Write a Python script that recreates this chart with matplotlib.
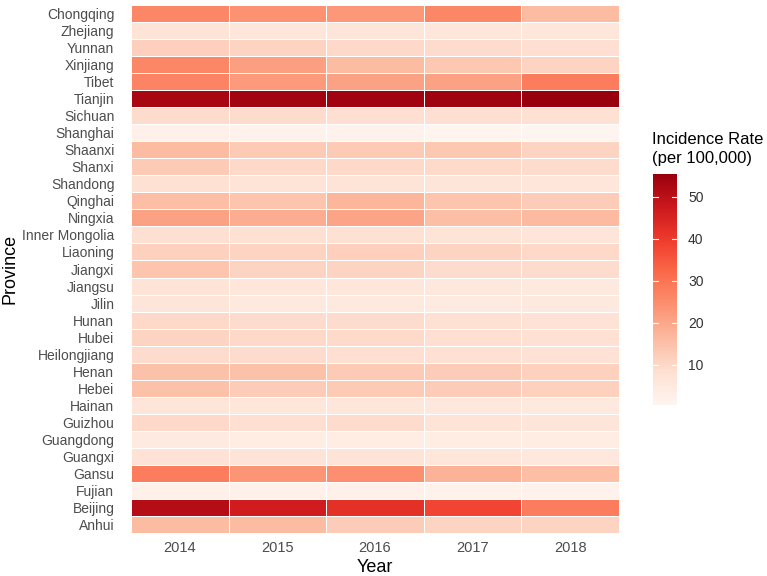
import numpy as np
import matplotlib
matplotlib.use("Agg")
import matplotlib.pyplot as plt
from matplotlib.colors import LinearSegmentedColormap, Normalize

plt.rcParams['font.family'] = ['Liberation Sans', 'DejaVu Sans']

years = ["2014", "2015", "2016", "2017", "2018"]
provinces = ["Anhui", "Beijing", "Fujian", "Gansu", "Guangxi", "Guangdong", "Guizhou",
             "Hainan", "Hebei", "Henan", "Heilongjiang", "Hubei", "Hunan", "Jilin",
             "Jiangsu", "Jiangxi", "Liaoning", "Inner Mongolia", "Ningxia", "Qinghai",
             "Shandong", "Shanxi", "Shaanxi", "Shanghai", "Sichuan", "Tianjin", "Tibet",
             "Xinjiang", "Yunnan", "Zhejiang", "Chongqing"]

anhui = [16.0, 16.0, 12.5, 11.0, 11.0]
beijing = [51.0, 46.5, 42.0, 38.0, 28.0]
fujian = [2.5, 2.0, 2.0, 1.8, 1.5]
gansu = [28.0, 23.5, 24.5, 18.0, 15.5]
guangxi = [7.5, 7.0, 7.0, 6.0, 5.5]
guangdong = [4.5, 4.0, 4.0, 4.0, 3.5]
guizhou = [10.0, 8.5, 9.0, 7.0, 6.5]
hainan = [6.5, 6.0, 6.0, 5.5, 5.0]
hebei = [15.0, 12.5, 13.0, 12.5, 11.5]
henan = [15.0, 15.0, 13.0, 12.5, 11.5]
heilongjiang = [9.0, 9.0, 8.5, 8.0, 7.5]
hubei = [11.0, 10.0, 9.5, 8.5, 8.0]
hunan = [10.0, 9.0, 9.0, 8.0, 7.5]
jilin = [6.5, 5.0, 5.0, 4.5, 5.0]
jiangsu = [7.0, 6.0, 6.0, 5.5, 5.0]
jiangxi = [14.0, 11.0, 11.0, 9.0, 9.0]
liaoning = [11.5, 11.0, 12.0, 11.0, 10.0]
inner_mongolia = [8.3, 8.0, 8.0, 7.0, 6.5]
ningxia = [21.0, 19.0, 20.5, 15.5, 16.5]
qinghai = [15.5, 14.0, 17.0, 14.0, 12.5]
shandong = [8.0, 7.0, 7.0, 6.5, 6.0]
shanxi = [13.0, 10.0, 10.0, 9.5, 9.0]
shaanxi = [16.0, 13.0, 13.0, 13.5, 11.0]
shanghai = [2.0, 1.5, 1.5, 1.0, 0.4]
sichuan = [9.0, 9.0, 8.5, 8.5, 8.0]
tianjin = [53.0, 54.0, 54.0, 54.5, 55.4]
tibet = [27.0, 22.5, 21.0, 21.0, 28.0]
xinjiang = [26.0, 21.5, 16.0, 13.5, 11.0]
yunnan = [12.0, 11.0, 10.0, 9.0, 8.5]
zhejiang = [7.0, 6.0, 6.5, 6.0, 6.0]
chongqing = [26.0, 24.0, 23.0, 26.0, 16.0]

values = np.array([anhui, beijing, fujian, gansu, guangxi, guangdong, guizhou, hainan,
                   hebei, henan, heilongjiang, hubei, hunan, jilin, jiangsu, jiangxi,
                   liaoning, inner_mongolia, ningxia, qinghai, shandong, shanxi, shaanxi,
                   shanghai, sichuan, tianjin, tibet, xinjiang, yunnan, zhejiang, chongqing])

cmap = LinearSegmentedColormap.from_list(
    "reds", ["#fff5f0", "#fee0d2", "#fcbba1", "#fc9272", "#fb6a4a",
             "#ef3b2c", "#cb181d", "#99000d"])
vmin, vmax = values.min(), values.max()
norm = Normalize(vmin=vmin, vmax=vmax)

W, H = 767, 576
L, R, T, B = 131, 619, 5, 533
fig = plt.figure(figsize=(W / 100, H / 100), dpi=100)
ax = fig.add_axes([L / W, 1 - B / H, (R - L) / W, (B - T) / H])
ax.pcolormesh(np.arange(len(years) + 1) - 0.5, np.arange(len(provinces) + 1) - 0.5,
              values, cmap=cmap, norm=norm, edgecolors="white", linewidth=0.5)
ax.set_xlim(-0.5, len(years) - 0.5)
ax.set_ylim(-0.5, len(provinces) - 0.5)
ax.set_xticks(range(len(years)))
ax.set_xticklabels(years)
ax.set_yticks(range(len(provinces)))
ax.set_yticklabels(provinces)
ax.tick_params(axis="y", length=0, labelsize=10, labelcolor="#4d4d4d", pad=12)
ax.tick_params(axis="x", length=0, labelsize=10.5, labelcolor="#4d4d4d", pad=6)
for s in ax.spines.values():
    s.set_visible(False)
ax.set_xlabel("Year", fontsize=13)
ax.set_ylabel("Province", fontsize=13)
ax.xaxis.set_label_coords(0.5, -(567 - B) / (B - T), transform=ax.transAxes)
ax.yaxis.set_label_coords(-(L - 10) / (R - L), 0.5, transform=ax.transAxes)
ax.xaxis.label.set_va("center")
ax.yaxis.label.set_va("center")

cax = fig.add_axes([653 / W, 1 - 405 / H, 24 / W, (405 - 174) / H])
grad = np.linspace(vmin, vmax, 300).reshape(-1, 1)
cax.imshow(grad, aspect="auto", origin="lower", cmap=cmap, norm=norm,
           extent=[0, 1, vmin, vmax])
cax.set_xlim(0, 1)
cax.set_ylim(vmin, vmax)
cticks = [10, 20, 30, 40, 50]
cax.set_xticks([])
cax.yaxis.tick_right()
cax.set_yticks(cticks)
cax.set_yticklabels([str(t) for t in cticks])
cax.tick_params(axis="y", length=0, labelsize=10, labelcolor="#333333", pad=8)
for t in cticks:
    cax.plot([0, 0.2], [t, t], color="white", lw=0.8)
    cax.plot([0.8, 1], [t, t], color="white", lw=0.8)
for s in cax.spines.values():
    s.set_visible(False)
fig.text(652 / W, 1 - 166 / H, "Incidence Rate\n(per 100,000)", fontsize=12,
         ha="left", va="bottom", linespacing=1.35)

fig.savefig("out.png", dpi=100)
